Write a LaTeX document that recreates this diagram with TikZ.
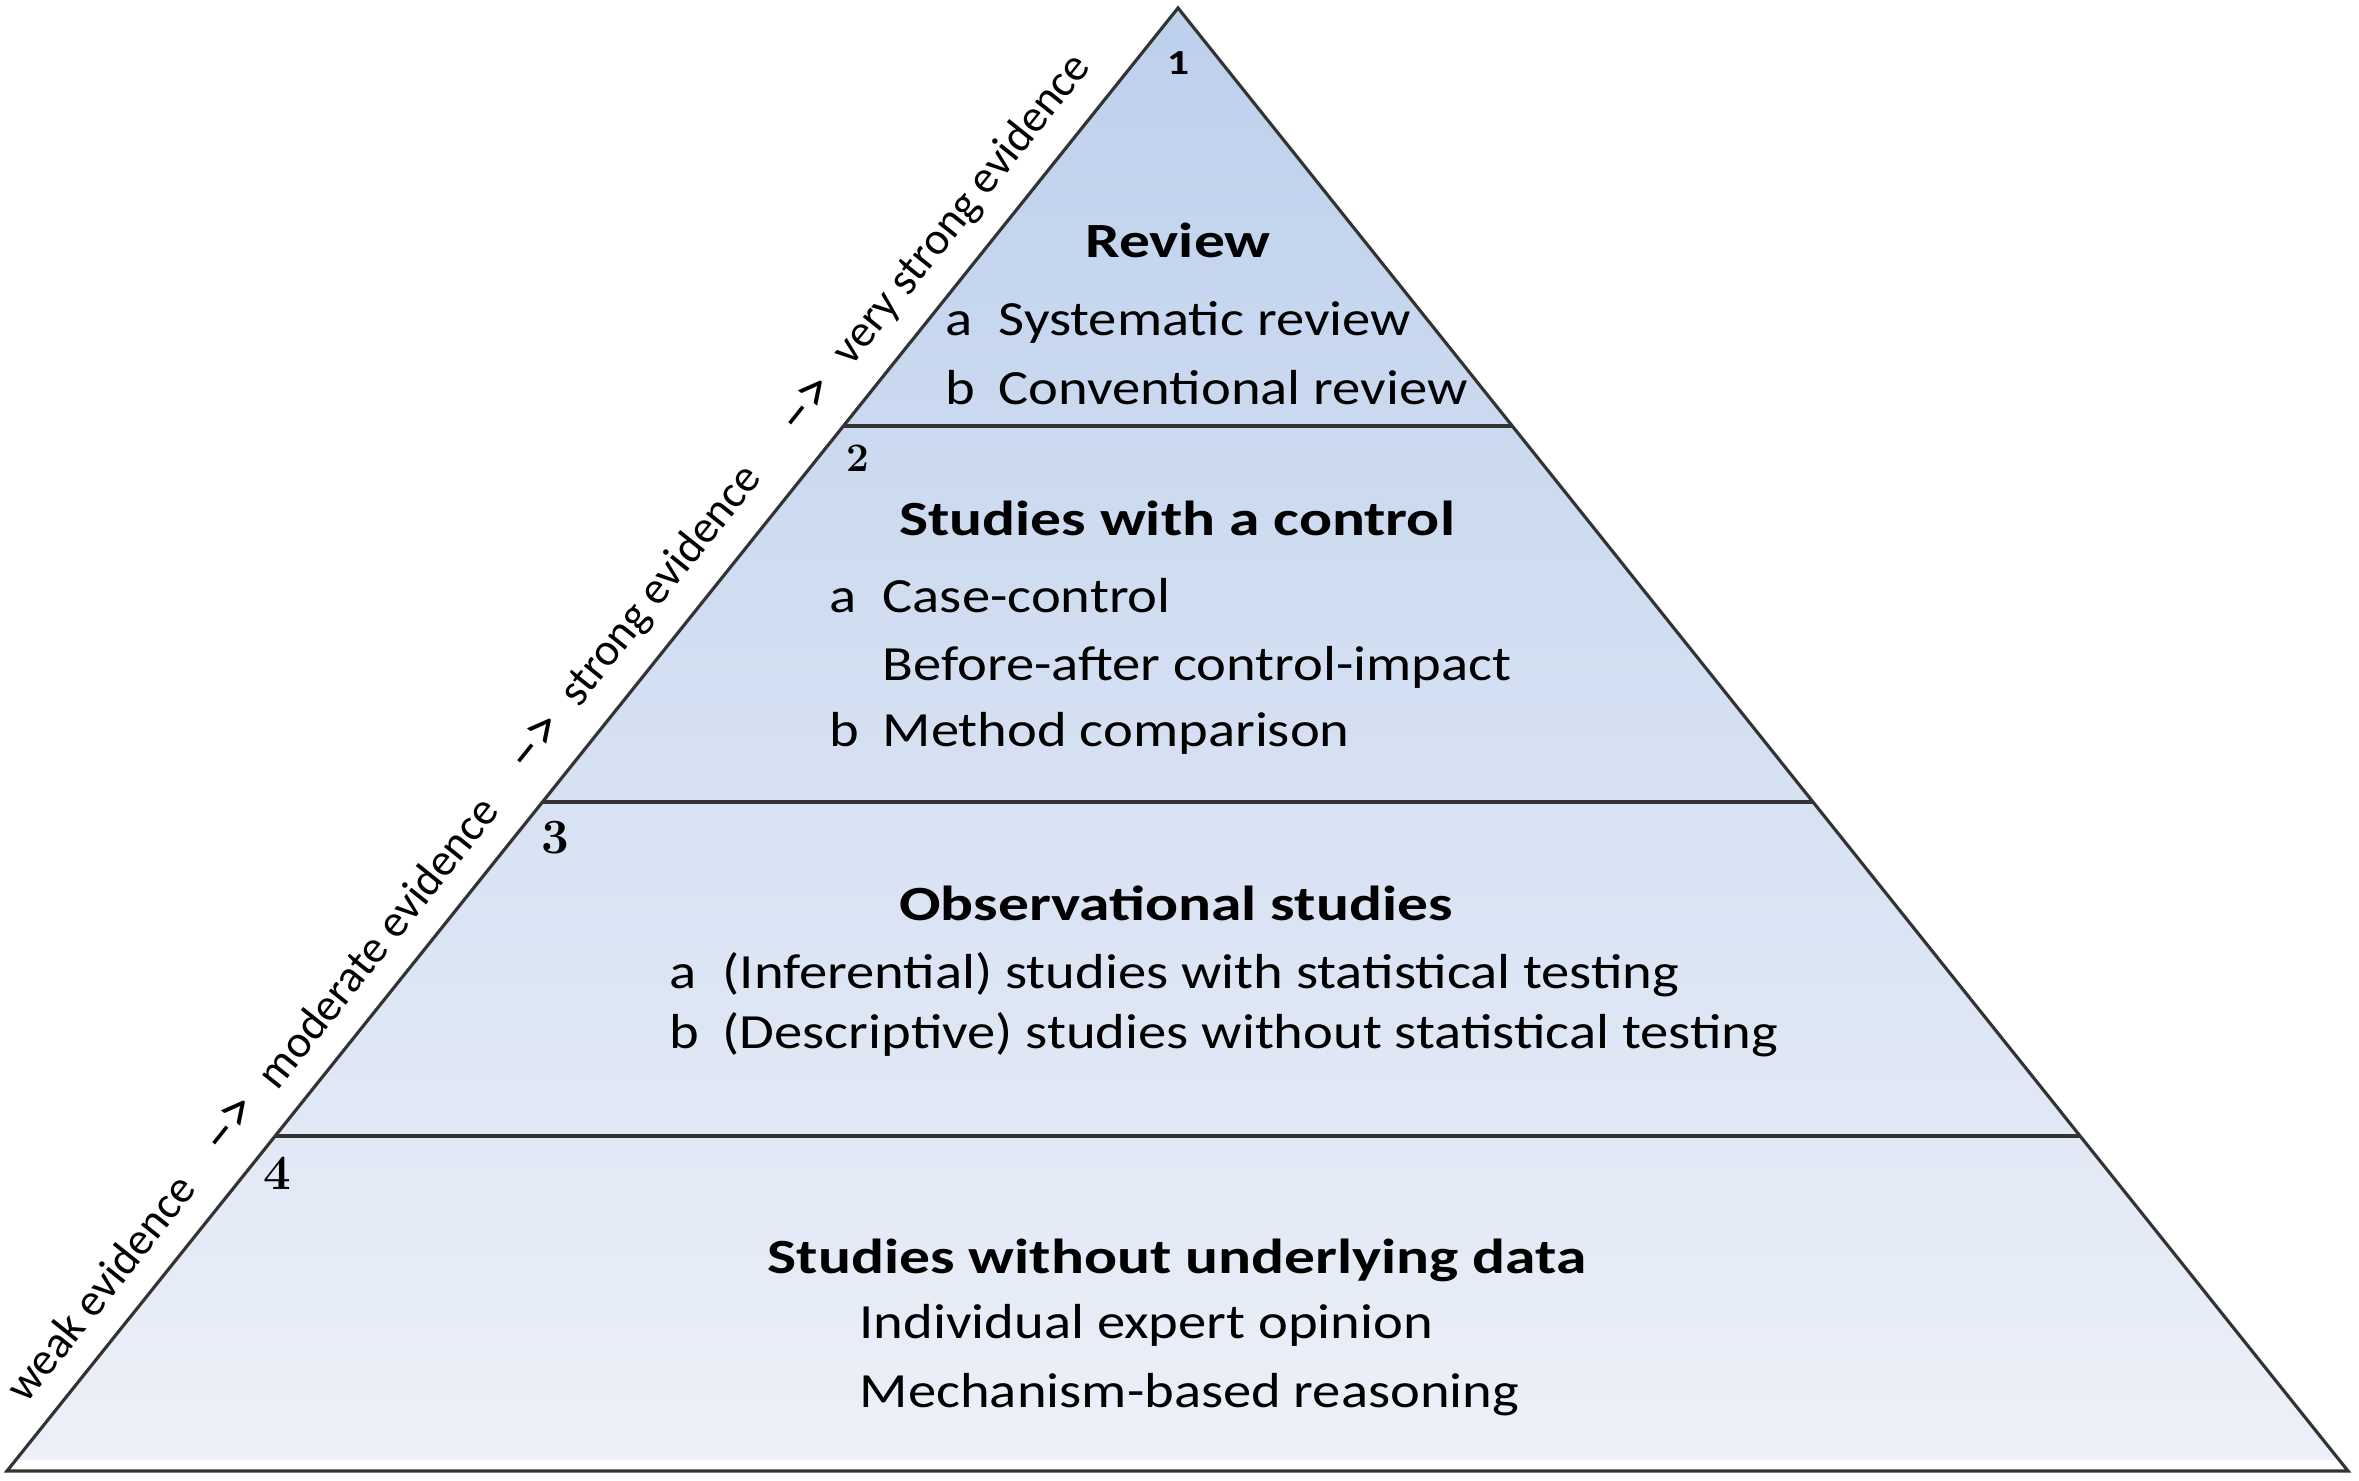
\documentclass[tikz,border=0pt]{standalone}
\usepackage{fontspec}
\setsansfont{Carlito}[FakeStretch=1.15,BoldFeatures={FakeStretch=1.25}]
\newfontfamily\edgefont{Carlito}
\usetikzlibrary{calc}
\definecolor{topblue}{RGB}{189,208,236}
\definecolor{botblue}{RGB}{236,240,248}

\begin{document}
\begin{tikzpicture}[level/.style={draw=black!80,line width=0.9pt},head/.style={anchor=base,inner sep=0pt,font=\sffamily\bfseries\fontsize{14}{16}\selectfont},item/.style={anchor=base west,inner sep=0pt,font=\sffamily\fontsize{14}{16}\selectfont},num/.style={font=\bfseries\fontsize{14}{16}\selectfont},numS/.style={font=\bfseries\fontsize{11.5}{13}\selectfont},numT/.style={font=\sffamily\bfseries\fontsize{10}{12}\selectfont},edgel/.style={rotate=51.33,font=\edgefont\fontsize{13}{15}\selectfont},edgea/.style={edgel,font=\edgefont\fontsize{17}{19}\selectfont}]
\def\lb#1{\makebox[5.3mm][l]{#1}}
\def\ta{0.7143};
\def\tb{0.4573};
\def\tc{0.2290};
\def\off{0.42cm};

\useasboundingbox (0,0) rectangle (23.59,14.80);

\coordinate (A) at (11.78,14.72);
\coordinate (L) at (0.07,0.09);
\coordinate (R) at (23.48,0.09);
\coordinate (L1) at ($(L)!\ta!(A)$);
\coordinate (R1) at ($(R)!\ta!(A)$);
\coordinate (L2) at ($(L)!\tb!(A)$);
\coordinate (R2) at ($(R)!\tb!(A)$);
\coordinate (L3) at ($(L)!\tc!(A)$);
\coordinate (R3) at ($(R)!\tc!(A)$);

\shade[top color=topblue,bottom color=botblue] (A) -- ($(L)!0.0075!(A)$) -- ($(R)!0.0075!(A)$) -- cycle;
\draw[level] (A) -- (L) -- (R) -- cycle;
\draw[level] (L1) -- (R1);
\draw[level] (L2) -- (R2);
\draw[level] (L3) -- (R3);

% left edge
\node[edgel] (weak) at ($(L)!0.1075!(A)!\off!90:(A)$) {weak evidence};
\node[edgea] (ar1) at ($(L)!0.219!(A)!\off!90:(A)$) {\textendash{}>};
\node[edgel] (moder) at ($(L)!0.344!(A)!\off!90:(A)$) {moderate evidence};
\node[edgea] (ar2) at ($(L)!0.480!(A)!\off!90:(A)$) {\textendash{}>};
\node[edgel] (strong) at ($(L)!0.587!(A)!\off!90:(A)$) {strong evidence};
\node[edgea] (ar3) at ($(L)!0.711!(A)!\off!90:(A)$) {\textendash{}>};
\node[edgel] (vstrong) at ($(L)!0.844!(A)!\off!90:(A)$) {very strong evidence};

% level 1
\node[numT] (n1) at (11.78,14.17) {1};
\node[head] (rev) at (11.78,12.22) {Review};
\node[item] (rev1) at (9.45,11.44) {\lb{a}Systematic review};
\node[item] (rev2) at (9.45,10.75) {\lb{b}Conventional review};

% level 2
\node[numS] (n2) at (8.58,10.22) {2};
\node[head] (ctl) at (11.77,9.45) {Studies with a control};
\node[item] (ctl1) at (8.29,8.67) {\lb{a}Case-control};
\node[item] (ctl2) at (8.29,8.00) {\lb{}Before-after control-impact};
\node[item] (ctl3) at (8.29,7.34) {\lb{b}Method comparison};

% level 3
\node[num] (n3) at (5.55,6.42) {3};
\node[head] (obs) at (11.76,5.60) {Observational studies};
\node[item] (obs1) at (6.69,4.92) {\lb{a}(Inferential) studies with statistical testing};
\node[item] (obs2) at (6.69,4.32) {\lb{b}(Descriptive) studies without statistical testing};

% level 4
\node[num] (n4) at (2.77,3.07) {4};
\node[head] (nod) at (11.77,2.07) {Studies without underlying data};
\node[item] (nod1) at (8.59,1.42) {Individual expert opinion};
\node[item] (nod2) at (8.59,0.73) {Mechanism-based reasoning};
\end{tikzpicture}
\end{document}
